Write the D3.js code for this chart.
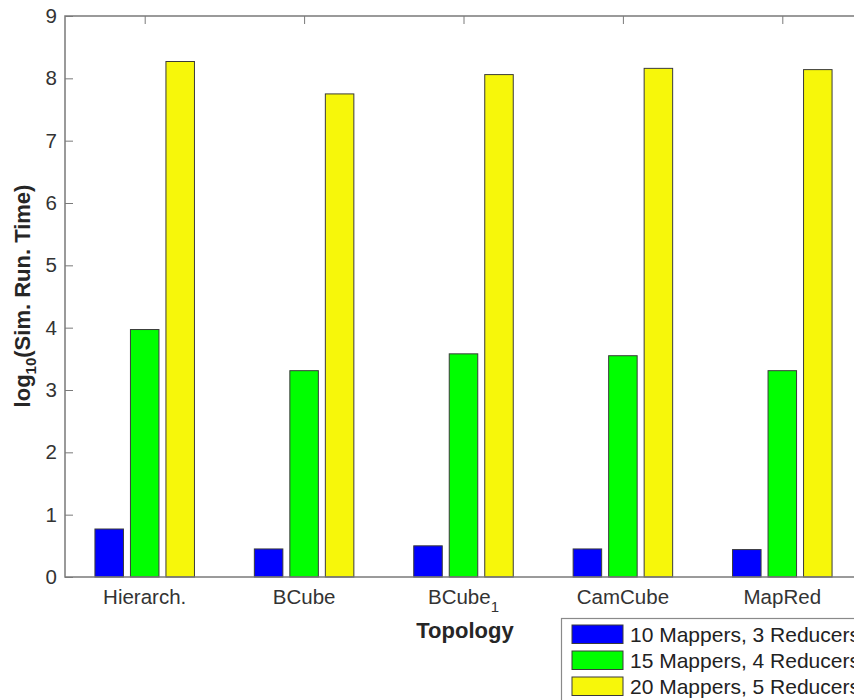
<!DOCTYPE html>
<html><head><meta charset="utf-8">
<script src="https://cdn.jsdelivr.net/npm/d3@7"></script>
<style>body{margin:0;background:#fff}svg{display:block;font-family:"Liberation Sans",Arial,sans-serif}</style>
</head><body>
<svg id="c" width="854" height="700"></svg>
<script>
const categories = ["Hierarch.", "BCube", "BCube_1", "CamCube", "MapRed"];
const seriesNames = ["10 Mappers, 3 Reducers", "15 Mappers, 4 Reducers", "20 Mappers, 5 Reducers"];
const series10 = [0.77, 0.45, 0.50, 0.45, 0.44];
const series15 = [3.97, 3.31, 3.58, 3.55, 3.31];
const series20 = [8.27, 7.75, 8.06, 8.16, 8.14];
const yTicks = [0, 1, 2, 3, 4, 5, 6, 7, 8, 9];
const colors = ["#0000ff", "#00ff00", "#f7f70a"];

const allSeries = [series10, series15, series20];
const svg = d3.select("#c");
const L = 65, R = 862, T = 16, B = 577;
const x = d3.scaleLinear().domain([0.5, categories.length + 0.5]).range([L, R]);
const y = d3.scaleLinear().domain([0, 9]).range([B, T]);
const inner = d3.scaleBand().domain(d3.range(3)).range([-53.25, 53.25]).paddingInner(0.197).paddingOuter(0.0985);
const axisCol = "#7a7a7a", textCol = "#333";

const g = svg.append("g");
const yAxis = g.append("g").attr("transform", `translate(${L},0)`)
  .call(d3.axisLeft(y).tickValues(yTicks).tickSize(-8).tickPadding(8).tickFormat(d3.format("d")));
yAxis.select(".domain").remove();
yAxis.selectAll("line").attr("stroke", axisCol);
yAxis.selectAll("text").attr("font-size", 20.5).attr("fill", textCol).attr("font-family", "Liberation Sans, Arial, sans-serif");
const yAxisR = g.append("g").attr("transform", `translate(${R},0)`)
  .call(d3.axisRight(y).tickValues(yTicks).tickSize(-8).tickFormat(""));
yAxisR.select(".domain").remove();
yAxisR.selectAll("line").attr("stroke", axisCol);
const xTop = g.append("g").attr("transform", `translate(0,${T})`)
  .call(d3.axisTop(x).tickValues(d3.range(1, categories.length + 1)).tickSize(-8).tickFormat(""));
xTop.select(".domain").remove();
xTop.selectAll("line").attr("stroke", axisCol);
const xBot = g.append("g").attr("transform", `translate(0,${B})`)
  .call(d3.axisBottom(x).tickValues(d3.range(1, categories.length + 1)).tickSize(-8).tickFormat(""));
xBot.select(".domain").remove();
xBot.selectAll("line").attr("stroke", axisCol);

allSeries.forEach((vals, si) => {
  svg.append("g").selectAll("rect").data(vals).join("rect")
    .attr("x", (d, i) => x(i + 1) + inner(si))
    .attr("width", inner.bandwidth())
    .attr("y", d => y(d))
    .attr("height", d => y(0) - y(d))
    .attr("fill", colors[si])
    .attr("stroke", "#3a3a3a").attr("stroke-width", 1);
});

svg.append("rect").attr("x", L).attr("y", T).attr("width", R - L).attr("height", B - T)
  .attr("fill", "none").attr("stroke", axisCol).attr("stroke-width", 1.5);

categories.forEach((c, i) => {
  const t = svg.append("text").attr("x", x(i + 1)).attr("y", 604).attr("text-anchor", "middle")
    .attr("font-size", 20.5).attr("fill", textCol);
  const parts = c.split("_");
  t.append("tspan").text(parts[0]);
  if (parts[1]) t.append("tspan").attr("dy", 8).attr("font-size", 15).text(parts[1]);
});

svg.append("text").attr("x", 465).attr("y", 638).attr("text-anchor", "middle")
  .attr("font-size", 22).attr("font-weight", "bold").attr("fill", "#262626").text("Topology");
const yl = svg.append("text").attr("transform", "translate(30,296) rotate(-90)").attr("text-anchor", "middle")
  .attr("font-size", 22).attr("font-weight", "bold").attr("fill", "#262626");
yl.append("tspan").text("log");
yl.append("tspan").attr("dy", 6).attr("font-size", 15).text("10");
yl.append("tspan").attr("dy", -6).text("(Sim. Run. Time)");

const lg = svg.append("g");
lg.append("rect").attr("x", 561.5).attr("y", 618.5).attr("width", 320).attr("height", 100)
  .attr("fill", "#fff").attr("stroke", "#8a8a8a").attr("stroke-width", 1.2);
seriesNames.forEach((s, i) => {
  const yy = 625 + i * 26;
  lg.append("rect").attr("x", 572).attr("y", yy).attr("width", 51).attr("height", 18.5)
    .attr("fill", colors[i]).attr("stroke", "#3a3a3a").attr("stroke-width", 1);
  lg.append("text").attr("x", 630).attr("y", yy + 17).attr("font-size", 21).attr("fill", "#222").text(s);
});
</script>
</body></html>
